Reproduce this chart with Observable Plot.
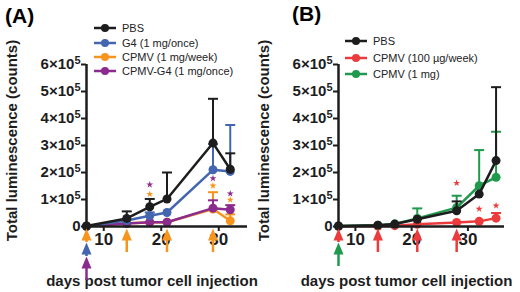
<!DOCTYPE html>
<html><head><meta charset="utf-8">
<script src="https://cdn.jsdelivr.net/npm/d3@7"></script>
<script src="https://cdn.jsdelivr.net/npm/@observablehq/plot@0.6"></script>
<style>
body{margin:0;background:#fff;font-family:"Liberation Sans",Arial,sans-serif;}
#wrap{position:relative;width:520px;height:292px;overflow:hidden;}
.panel{position:absolute;top:0;width:260px;height:292px;}
.title{position:absolute;font-weight:bold;font-size:21px;line-height:1;}
.legend{position:absolute;font-size:11px;color:#222;}
.legend .row{position:absolute;left:0;display:flex;align-items:center;white-space:nowrap;transform:translateY(-50%);}
.legend svg{margin-right:6px;}
</style></head>
<body>
<div id="wrap">
  <div class="panel" id="pA" style="left:0"></div>
  <div class="panel" id="pB" style="left:260px"></div>
  <div class="title" style="left:5px;top:5px">(A)</div>
  <div class="title" style="left:292px;top:3px">(B)</div>
  <div class="legend" id="legA" style="left:94px;top:0"></div>
  <div class="legend" id="legB" style="left:345px;top:0"></div>
</div>
<script>
// ---------- DATA ----------
const yTicks = [0, 100000, 200000, 300000, 400000, 500000, 600000];
const xTicks = [10, 20, 30];
const yLabel = "Total luminescence (counts)";
const xLabel = "days post tumor cell injection";

// Panel A
const daysA = [7, 14, 18, 21, 29, 32];
const namesA = ["PBS", "G4 (1 mg/once)", "CPMV (1 mg/week)", "CPMV-G4 (1 mg/once)"];
const pbsA = [2000, 30000, 73000, 102000, 309000, 212000];
const pbsA_err = [null, 56000, 102000, 200000, 473000, 271000];
const g4A = [1000, 22000, 40000, 52000, 210000, 204000];
const g4A_err = [null, null, 52000, null, 305000, 376000];
const cpmvA = [1000, 12000, 15000, 16000, 65000, 21000];
const cpmvA_err = [null, null, null, null, 127000, 45000];
const cpmvG4A = [1000, 11000, 16000, 16000, 68000, 62000];
const cpmvG4A_err = [null, null, null, null, 97000, 79000];
const starDaysA = [18, 29, 32];
const starsA_cpmvG4 = [155000, 178000, 122000];
const starsA_cpmv = [120000, 151000, 99000];
const treatA_cpmv = [7, 14, 21, 29];
const treatA_g4 = [7];
const treatA_cpmvG4 = [7];

// Panel B
const daysB = [7, 14, 17, 21, 28, 32, 35];
const namesB = ["PBS", "CPMV (100 µg/week)", "CPMV (1 mg)"];
const pbsB = [2000, 5000, 9000, 27000, 58000, 120000, 244000];
const pbsB_err = [null, null, null, null, 93000, null, 516000];
const cpmv100B = [1000, 2000, 3000, 8000, 15000, 19000, 31000];
const cpmv100B_err = [null, null, null, null, null, null, 50000];
const cpmv1mgB = [2000, 5000, 9000, 30000, 70000, 151000, 182000];
const cpmv1mgB_err = [null, null, null, 67000, 114000, 283000, 351000];
const starDaysB = [28, 32, 35];
const starsB_cpmv100 = [161000, 65000, 77000];
const treatB_cpmv100 = [7, 14, 21, 28];
const treatB_cpmv1mg = [7];

// ---------- STYLE ----------
const C = {black: "#1d1d1d", blue: "#4466b0", orange: "#f7941d", purple: "#8b2b8d", red: "#ec3b3c", green: "#1f9a4c"};
const W = 260, H = 292, MT = 64, MB = 66, FRAME = H - MT - MB, YMAX = 600000;
const px2val = p => -p * YMAX / FRAME;

const capSymbol = {draw(ctx) { ctx.moveTo(-5, 0); ctx.lineTo(5, 0); }};
const headSymbol = {draw(ctx) { ctx.moveTo(0, 0); ctx.lineTo(5, 12); ctx.lineTo(-5, 12); ctx.closePath(); }};
const fmtY = d => d === 0 ? "0" : `${d / 1e5}×10⁵`;

function seriesMarks(days, values, err, color) {
  const rows = days.map((d, i) => ({day: d, v: values[i], e: err[i]}));
  const er = rows.filter(r => r.e != null);
  return [
    Plot.ruleX(er, {x: "day", y1: "v", y2: "e", stroke: color, strokeWidth: 2}),
    Plot.dot(er, {x: "day", y: "e", symbol: capSymbol, stroke: color, strokeWidth: 2, fill: "none", r: 4}),
    Plot.line(rows, {x: "day", y: "v", stroke: color, strokeWidth: 2.5}),
    Plot.dot(rows, {x: "day", y: "v", fill: color, r: 4.5})
  ];
}
function starMarks(days, vals, color) {
  const rows = days.map((d, i) => ({day: d, v: vals[i]}));
  return Plot.dot(rows, {x: "day", y: "v", symbol: "star", fill: color, r: 2.2});
}
function arrowMarks(groups) {
  const level = {};
  const items = [];
  groups.forEach(g => g.days.forEach(d => {
    const l = level[d] || 0; level[d] = l + 1;
    items.push({day: d, color: g.color, lvl: l});
  }));
  items.forEach(it => {
    it.tip = px2val(2 + 14 * it.lvl);
    it.last = level[it.day] - 1 === it.lvl;
    it.s1 = px2val(2 + 14 * it.lvl + 10);
    it.s2 = px2val(2 + 14 * it.lvl + (it.last ? 24 : 14));
  });
  const ordered = items.slice().sort((a, b) => b.lvl - a.lvl);
  return [
    Plot.ruleX(ordered, {x: "day", y1: "s1", y2: "s2", stroke: "color", strokeWidth: 2.5}),
    Plot.dot(ordered, {x: "day", y: "tip", symbol: headSymbol, fill: "color", r: 4})
  ];
}
function makePanel(xmax, marksData, arrows) {
  const svg = Plot.plot({
    width: W, height: H, marginLeft: 86 - (xmax > 36 ? 8 : 0), marginRight: W - 86 - 161 + (xmax > 36 ? 3 : 0),
    marginTop: MT, marginBottom: MB,
    style: {fontFamily: "'Liberation Sans', Arial, sans-serif", fontWeight: "bold", color: "#1d1d1d", overflow: "visible", background: "transparent"},
    x: {domain: [7, xmax]},
    y: {domain: [0, YMAX]},
    marks: [
      ...marksData,
      Plot.ruleX([7], {y1: 0, y2: YMAX, stroke: "#1d1d1d", strokeWidth: 2.5}),
      Plot.ruleY([0], {x1: 7, x2: xmax, stroke: "#1d1d1d", strokeWidth: 2.5}),
      Plot.axisY({ticks: yTicks, tickFormat: fmtY, tickSize: 5, tickPadding: 1, strokeWidth: 2, fontSize: 15, label: null}),
      Plot.axisX({ticks: xTicks, tickSize: 5, tickPadding: 1, strokeWidth: 2, fontSize: 17, label: null}),
      Plot.text([yLabel], {frameAnchor: "left", textAnchor: "middle", lineAnchor: "middle", rotate: -90, dx: -74, dy: -5, fontSize: 15, fontWeight: "bold", fill: "#1d1d1d"}),
      Plot.text([xLabel], {frameAnchor: "bottom", textAnchor: "middle", lineAnchor: "middle", dy: 55, dx: -15, fontSize: 15, fontWeight: "bold", fill: "#1d1d1d"}),
      ...arrows
    ]
  });
  // render the exponent as a raised superscript (still real text)
  d3.select(svg).selectAll("text").each(function () {
    const t = this.textContent;
    if (t.endsWith("×10⁵")) {
      const sel = d3.select(this);
      sel.text(t.slice(0, -1));
      sel.append("tspan").attr("dy", "-0.45em").attr("font-size", "11px").text("5");
    }
  });
  return svg;
}

const plotA = makePanel(35, [
  ...seriesMarks(daysA, cpmvA, cpmvA_err, C.orange),
  ...seriesMarks(daysA, cpmvG4A, cpmvG4A_err, C.purple),
  ...seriesMarks(daysA, g4A, g4A_err, C.blue),
  ...seriesMarks(daysA, pbsA, pbsA_err, C.black),
  starMarks(starDaysA, starsA_cpmvG4, C.purple),
  starMarks(starDaysA, starsA_cpmv, C.orange)
], arrowMarks([{days: treatA_cpmv, color: C.orange}, {days: treatA_g4, color: C.blue}, {days: treatA_cpmvG4, color: C.purple}]));

const plotB = makePanel(36.5, [
  ...seriesMarks(daysB, cpmv100B, cpmv100B_err, C.red),
  ...seriesMarks(daysB, cpmv1mgB, cpmv1mgB_err, C.green),
  ...seriesMarks(daysB, pbsB, pbsB_err, C.black),
  starMarks(starDaysB, starsB_cpmv100, C.red)
], arrowMarks([{days: treatB_cpmv100, color: C.red}, {days: treatB_cpmv1mg, color: C.green}]));

document.getElementById("pA").appendChild(plotA);
document.getElementById("pB").appendChild(plotB);

function legend(el, names, colors, rowYs) {
  names.forEach((n, i) => {
    const row = document.createElement("div");
    row.className = "row";
    row.style.top = rowYs[i] + "px";
    row.innerHTML = `<svg width="22" height="10"><line x1="0" y1="5" x2="22" y2="5" stroke="${colors[i]}" stroke-width="2.5"/><circle cx="11" cy="5" r="4" fill="${colors[i]}"/></svg><span>${n}</span>`;
    el.appendChild(row);
  });
}
legend(document.getElementById("legA"), namesA, [C.black, C.blue, C.orange, C.purple], [28, 42.5, 56.5, 70.5]);
legend(document.getElementById("legB"), namesB, [C.black, C.red, C.green], [41, 57.5, 74]);
</script>
</body></html>
